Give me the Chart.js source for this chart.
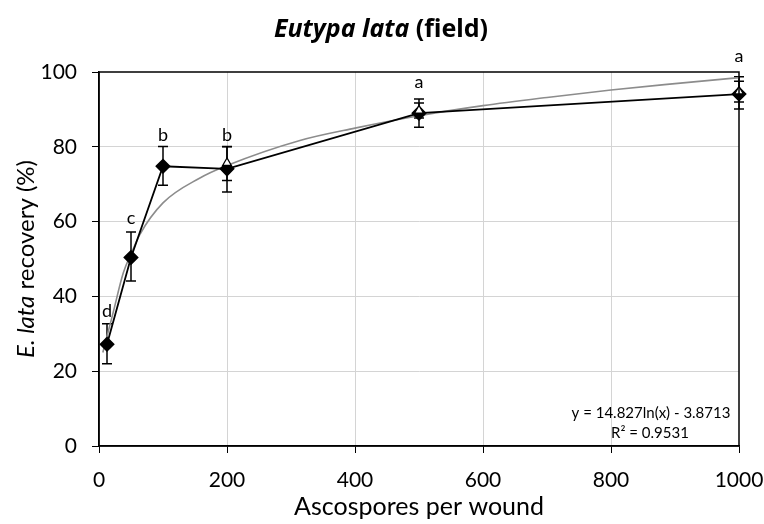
<!DOCTYPE html>
<html>
<head>
<meta charset="utf-8">
<script src="https://cdn.jsdelivr.net/npm/chart.js@4"></script>
<style>
  body { margin: 0; background: #fff; }
</style>
</head>
<body>
<canvas id="eutypaChart" width="764" height="524"></canvas>
<script>
// field inoculation, E. lata
const doses = [12.5, 50, 100, 200, 500, 1000];
const recovery = [27.2, 50.4, 74.8, 74.1, 89.0, 94.1];
const errLow = [22.0, 44.1, 69.7, 67.9, 85.2, 90.1];
const errHigh = [32.7, 57.2, 80.1, 80.1, 92.8, 98.7];
const letters = ['d', 'c', 'b', 'b', 'a', 'a'];
const letterAt = [36.0, 60.9, 83.2, 83.2, 97.3, 104.1];

// second series (open triangles), mostly hidden behind the diamonds
const doses2 = [200, 500, 1000];
const recovery2 = [75.7, 89.7, 94.8];
const errLow2 = [71.0, 87.7, 92.0];
const errHigh2 = [80.0, 91.7, 97.5];

// log trendline as drawn
const trendX = [6, 22, 38, 51, 64, 100, 157, 200, 314, 400, 500, 600, 700, 800, 900, 1000];
const trendY = [25, 35.6, 46.3, 51.7, 56.6, 65.0, 71.6, 75.0, 81.7, 85, 88.3, 91.0, 93.2, 95.2, 96.9, 98.5];

const xTicks = [0, 200, 400, 600, 800, 1000];
const yTicks = [0, 20, 40, 60, 80, 100];

const equation = 'y = 14.827ln(x) - 3.8713';
const rSquared = 'R² = 0.9531';

const FONT = 'Lato, "Open Sans", sans-serif';
const TITLE_FONT = '"Noto Sans", sans-serif';

function toPoints(xs, ys) {
    return xs.map((x, i) => ({ x: x, y: ys[i] }));
}

function drawErrorBars(ctx, xScale, yScale, xs, lows, highs) {
    ctx.save();
    ctx.strokeStyle = '#000';
    ctx.lineWidth = 1.5;
    xs.forEach((x, i) => {
        let px = xScale.getPixelForValue(x);
        let lo = yScale.getPixelForValue(lows[i]);
        let hi = yScale.getPixelForValue(highs[i]);
        ctx.beginPath();
        ctx.moveTo(px, lo);
        ctx.lineTo(px, hi);
        ctx.moveTo(px - 5, lo);
        ctx.lineTo(px + 5, lo);
        ctx.moveTo(px - 5, hi);
        ctx.lineTo(px + 5, hi);
        ctx.stroke();
    });
    ctx.restore();
}

// keep chart area fixed, ignore tick label overhang
function noOverhang(s) {
    s.paddingLeft = 0;
    s.paddingRight = 0;
    s.paddingTop = 0;
    s.paddingBottom = 0;
}

const decorations = {
    id: 'decorations',
    beforeDatasetsDraw(chart) {
        let ctx = chart.ctx;
        let xs = chart.scales.x, ys = chart.scales.y;
        drawErrorBars(ctx, xs, ys, doses, errLow, errHigh);
        drawErrorBars(ctx, xs, ys, doses2, errLow2, errHigh2);
    },
    afterDraw(chart) {
        let ctx = chart.ctx;
        let area = chart.chartArea;
        let xs = chart.scales.x, ys = chart.scales.y;

        // plot box
        ctx.save();
        ctx.strokeStyle = '#000';
        ctx.lineWidth = 1.5;
        ctx.strokeRect(area.left, area.top, area.right - area.left, area.bottom - area.top);
        ctx.restore();

        ctx.save();
        ctx.fillStyle = '#000';

        // significance letters
        ctx.font = '18px ' + FONT;
        ctx.textAlign = 'center';
        ctx.textBaseline = 'middle';
        letters.forEach((l, i) => {
            ctx.fillText(l, xs.getPixelForValue(doses[i]), ys.getPixelForValue(letterAt[i]));
        });

        // title: italic species name + plain bold
        let part1 = 'Eutypa lata', part2 = ' (field)';
        ctx.textBaseline = 'alphabetic';
        ctx.textAlign = 'left';
        ctx.font = 'italic bold 25px ' + TITLE_FONT;
        let w1 = ctx.measureText(part1).width;
        ctx.font = 'bold 25px ' + TITLE_FONT;
        let w2 = ctx.measureText(part2).width;
        let tx = 381 - (w1 + w2) / 2;
        ctx.font = 'italic bold 25px ' + TITLE_FONT;
        ctx.fillText(part1, tx, 37);
        ctx.font = 'bold 25px ' + TITLE_FONT;
        ctx.fillText(part2, tx + w1, 37);

        // x axis title
        ctx.font = '25px ' + FONT;
        ctx.textAlign = 'center';
        ctx.fillText('Ascospores per wound', (area.left + area.right) / 2, 515);

        // y axis title, rotated, italic abbreviation
        let y1 = 'E. lata', y2 = ' recovery (%)';
        ctx.font = 'italic 24px ' + FONT;
        let yw1 = ctx.measureText(y1).width;
        ctx.font = '24px ' + FONT;
        let yw2 = ctx.measureText(y2).width;
        ctx.translate(34, (area.top + area.bottom) / 2);
        ctx.rotate(-Math.PI / 2);
        ctx.textAlign = 'left';
        let sx = -(yw1 + yw2) / 2;
        ctx.font = 'italic 24px ' + FONT;
        ctx.fillText(y1, sx, 0);
        ctx.font = '24px ' + FONT;
        ctx.fillText(y2, sx + yw1, 0);
        ctx.restore();

        // trendline equation
        ctx.save();
        ctx.fillStyle = '#000';
        ctx.font = '15px ' + FONT;
        ctx.textAlign = 'center';
        ctx.textBaseline = 'middle';
        ctx.fillText(equation, area.right - 88, area.bottom - 33);
        ctx.fillText(rSquared, area.right - 89, area.bottom - 13);
        ctx.restore();
    }
};

new Chart('eutypaChart', {
    type: 'scatter',
    data: {
        datasets: [{
            label: 'triangles',
            data: toPoints(doses2, recovery2),
            pointStyle: 'triangle',
            pointRadius: 5,
            backgroundColor: '#fff',
            borderColor: '#000',
            borderWidth: 1.2,
            showLine: false,
            clip: false
        }, {
            label: 'field',
            data: toPoints(doses, recovery),
            pointStyle: 'rectRot',
            pointRadius: 6.5,
            backgroundColor: '#000',
            borderColor: '#000',
            borderWidth: 1.8,
            showLine: true,
            clip: false
        }, {
            label: 'trend',
            data: toPoints(trendX, trendY),
            pointRadius: 0,
            borderColor: '#8c8c8c',
            borderWidth: 1.6,
            showLine: true,
            cubicInterpolationMode: 'monotone',
            clip: false
        }]
    },
    options: {
        responsive: false,
        animation: false,
        layout: { padding: { top: 72, right: 25, left: 0, bottom: 0 } },
        plugins: {
            legend: { display: false },
            tooltip: { enabled: false }
        },
        scales: {
            x: {
                type: 'linear',
                min: 0,
                max: 1000,
                afterFit: s => { s.height = 78; noOverhang(s); },
                afterBuildTicks: s => { s.ticks = xTicks.map(v => ({ value: v })); },
                ticks: { color: '#000', font: { family: FONT, size: 21 }, padding: 15, maxRotation: 0, callback: v => String(v) },
                grid: {
                    color: c => (c.tick && (c.tick.value === 0 || c.tick.value === 1000)) ? 'rgba(0,0,0,0)' : '#d4d4d4',
                    tickColor: '#000',
                    tickLength: 7,
                    lineWidth: 1
                },
                border: { color: '#000', width: 1.5 }
            },
            y: {
                min: 0,
                max: 100,
                afterFit: s => { s.width = 99; noOverhang(s); },
                afterBuildTicks: s => { s.ticks = yTicks.map(v => ({ value: v })); },
                ticks: { color: '#000', font: { family: FONT, size: 21 }, padding: 15, callback: v => String(v) },
                grid: {
                    color: c => (c.tick && (c.tick.value === 0 || c.tick.value === 100)) ? 'rgba(0,0,0,0)' : '#d4d4d4',
                    tickColor: '#000',
                    tickLength: 7,
                    lineWidth: 1
                },
                border: { color: '#000', width: 1.5 }
            }
        }
    },
    plugins: [decorations]
});
</script>
</body>
</html>
